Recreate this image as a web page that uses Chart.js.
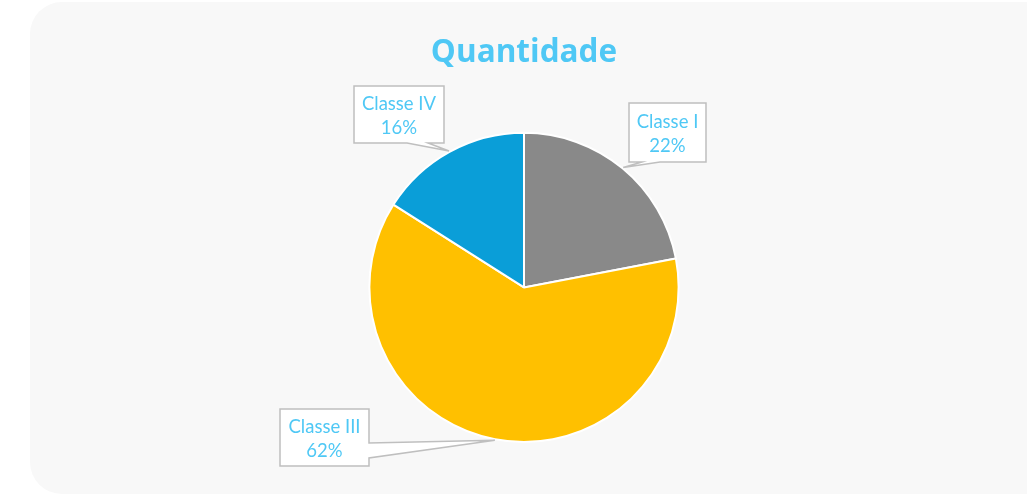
<!DOCTYPE html>
<html>
<head>
<meta charset="utf-8">
<script src="https://cdn.jsdelivr.net/npm/chart.js@4"></script>
<style>
html,body{margin:0;padding:0;background:#ffffff;}
#wrap{position:relative;width:1027px;height:496px;}
</style>
</head>
<body>
<div id="wrap"><canvas id="c" width="1027" height="496"></canvas></div>
<script>
const categories = ["Classe I", "Classe III", "Classe IV"];
const values = [22, 62, 16];
const sliceColors = ["#898989", "#FFC000", "#0A9ED8"];
const chartTitle = "Quantidade";

// callout layout (box rect in px + notch), per slice
const calloutLayout = [
  {x:629, y:103, w:77, h:59, edge:"bottom", b1:642, b2:660},
  {x:280, y:409, w:89, h:57, edge:"right", b1:443, b2:458},
  {x:354, y:86, w:90, h:57, edge:"bottom", b1:407, b2:428}
];

const bgPlugin = {
  id: "bgPanel",
  beforeDraw(chart) {
    const ctx = chart.ctx;
    ctx.save();
    ctx.fillStyle = "#ffffff";
    ctx.fillRect(0, 0, chart.width, chart.height);
    ctx.fillStyle = "#F8F8F8";
    ctx.beginPath();
    ctx.roundRect(30, 2, 1030, 492, 32);
    ctx.fill();
    ctx.restore();
  }
};

const calloutPlugin = {
  id: "callouts",
  afterDatasetsDraw(chart) {
    const ctx = chart.ctx;
    const meta = chart.getDatasetMeta(0);
    const total = values.reduce((a, b) => a + b, 0);
    meta.data.forEach((arc, i) => {
      const L = calloutLayout[i];
      const mid = (arc.startAngle + arc.endAngle) / 2;
      const r = arc.outerRadius + 1;
      const ax = arc.x + Math.cos(mid) * r;
      const ay = arc.y + Math.sin(mid) * r;
      const x1 = L.x, y1 = L.y, x2 = L.x + L.w, y2 = L.y + L.h;
      ctx.save();
      ctx.beginPath();
      ctx.moveTo(x1, y1);
      ctx.lineTo(x2, y1);
      if (L.edge === "right") {
        ctx.lineTo(x2, L.b1);
        ctx.lineTo(ax, ay);
        ctx.lineTo(x2, L.b2);
      }
      ctx.lineTo(x2, y2);
      if (L.edge === "bottom") {
        ctx.lineTo(L.b2, y2);
        ctx.lineTo(ax, ay);
        ctx.lineTo(L.b1, y2);
      }
      ctx.lineTo(x1, y2);
      ctx.closePath();
      ctx.fillStyle = "#ffffff";
      ctx.fill();
      ctx.strokeStyle = "#BFBFBF";
      ctx.lineWidth = 1.5;
      ctx.stroke();
      ctx.fillStyle = "#4FC8F5";
      ctx.font = "18.5px Lato, 'Open Sans', sans-serif";
      ctx.textAlign = "center";
      ctx.textBaseline = "middle";
      const cx = x1 + L.w / 2;
      const cy = y1 + L.h / 2;
      ctx.fillText(categories[i], cx, cy - 10.5);
      ctx.fillText(Math.round(values[i] / total * 100) + "%", cx, cy + 14);
      ctx.restore();
    });
  }
};

new Chart(document.getElementById("c"), {
  type: "pie",
  data: {
    labels: categories,
    datasets: [{
      data: values,
      backgroundColor: sliceColors,
      borderColor: "#ffffff",
      borderWidth: 2,
      hoverOffset: 0
    }]
  },
  options: {
    responsive: false,
    animation: false,
    events: [],
    layout: { padding: { left: 21, right: 0, top: 0, bottom: 53 } },
    plugins: {
      legend: { display: false },
      tooltip: { enabled: false },
      title: {
        display: true,
        text: chartTitle,
        color: "#4FC8F5",
        font: { family: "'Open Sans', Lato, sans-serif", size: 31.5, weight: "bold" },
        padding: { top: 34, bottom: 60 }
      }
    }
  },
  plugins: [bgPlugin, calloutPlugin]
});
</script>
</body>
</html>
